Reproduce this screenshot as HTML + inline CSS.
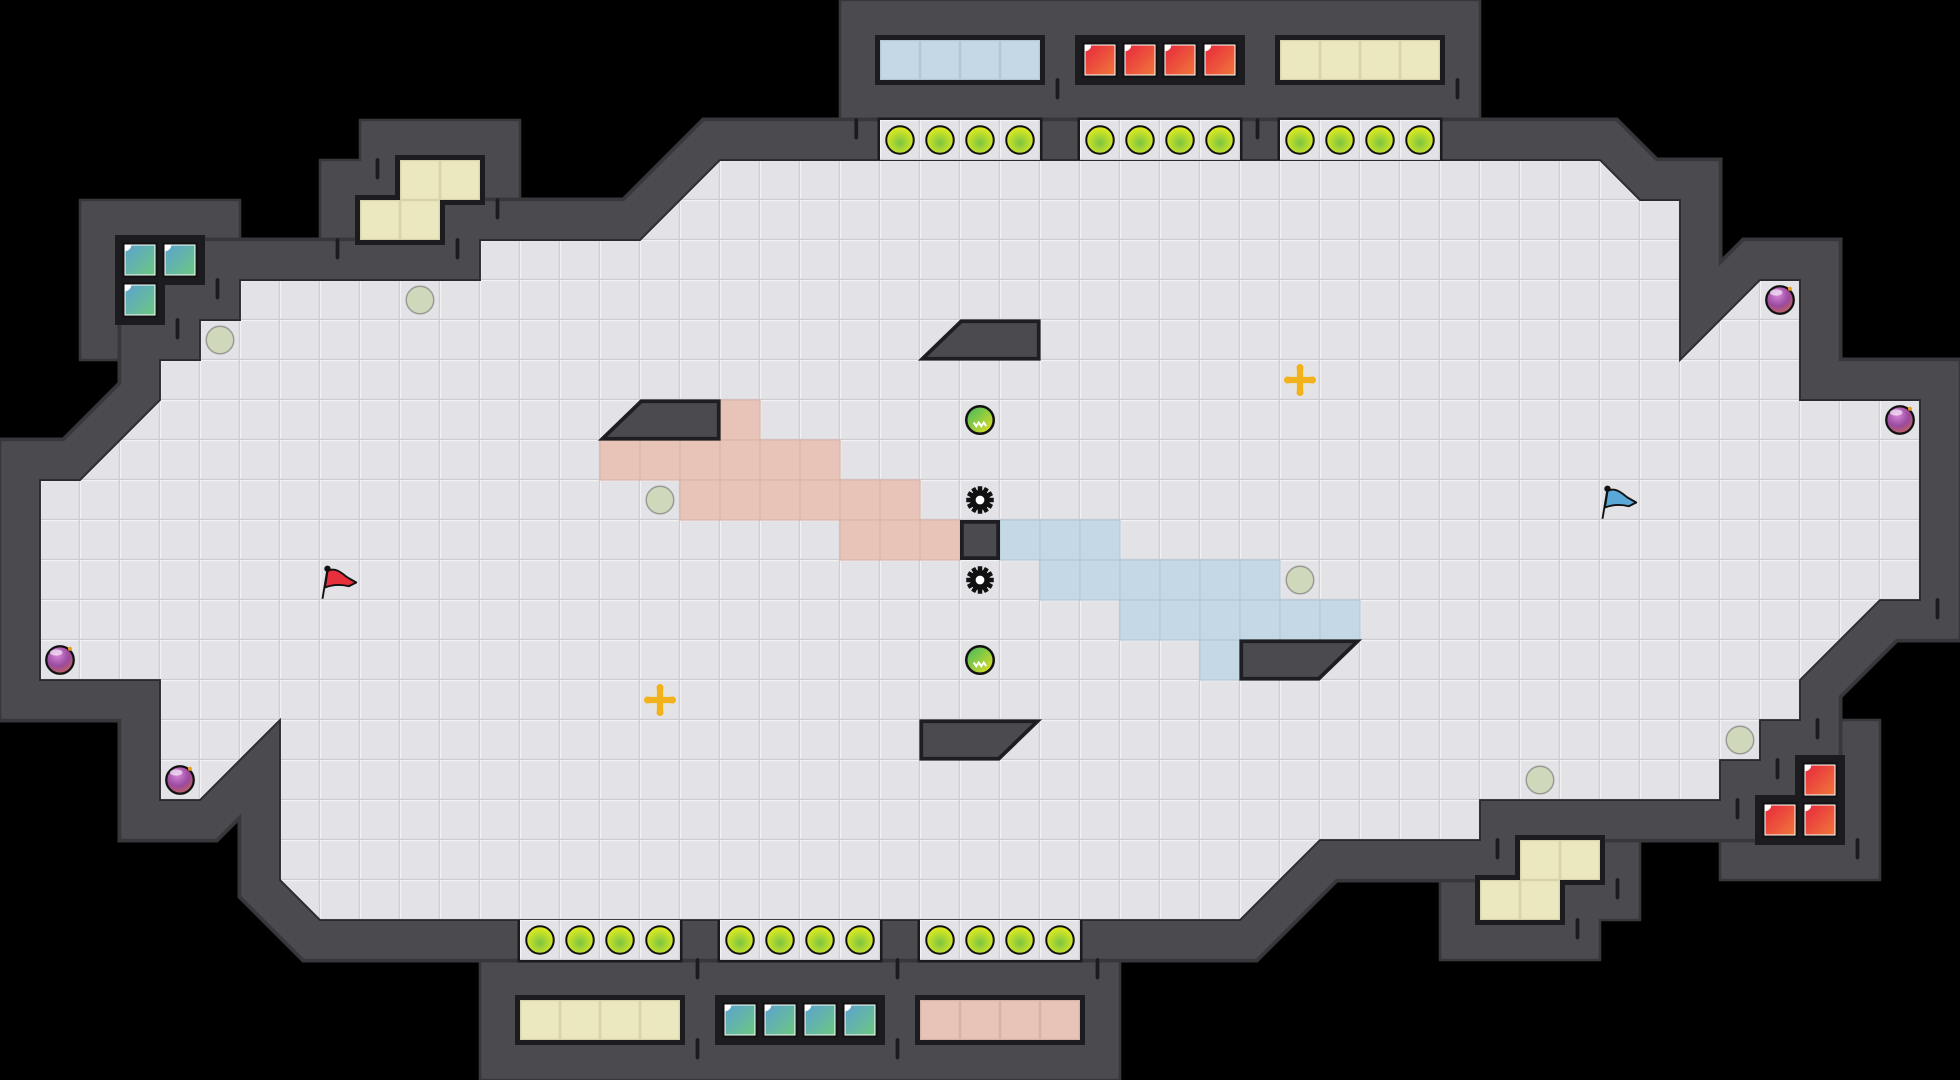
<!DOCTYPE html>
<html><head><meta charset="utf-8"><style>
html,body{margin:0;padding:0;background:#000;width:1960px;height:1080px;overflow:hidden}
svg{display:block}
</style></head><body>
<svg width="1960" height="1080" viewBox="0 0 1568 864" xmlns="http://www.w3.org/2000/svg">
<defs>
<pattern id="grid" width="32" height="32" patternUnits="userSpaceOnUse">
<rect width="32" height="32" fill="#e3e3e7"/>
<rect x="0" y="0" width="32" height="1" fill="#f2f2f4"/>
<rect x="0" y="0" width="1" height="32" fill="#f2f2f4"/>
<rect x="0" y="31" width="32" height="1" fill="#cdcdd2"/>
<rect x="31" y="0" width="1" height="32" fill="#cdcdd2"/>
</pattern>
<radialGradient id="yg" cx="0.5" cy="0.6" r="0.6"><stop offset="0" stop-color="#7cc443"/><stop offset="1" stop-color="#e8ee1c"/></radialGradient>
<linearGradient id="red" x1="0" y1="0" x2="1" y2="1"><stop offset="0" stop-color="#e8283c"/><stop offset="1" stop-color="#f0783c"/></linearGradient>
<linearGradient id="bg" x1="0" y1="0" x2="1" y2="1"><stop offset="0" stop-color="#5ba2d0"/><stop offset="1" stop-color="#6cc880"/></linearGradient>
<radialGradient id="pg" cx="0.4" cy="0.3" r="0.7"><stop offset="0" stop-color="#d98ad8"/><stop offset="0.6" stop-color="#9a4aa0"/><stop offset="1" stop-color="#c06060"/></radialGradient>
<linearGradient id="gb" x1="0" y1="0" x2="1" y2="1"><stop offset="0" stop-color="#3cb860"/><stop offset="1" stop-color="#e8e020"/></linearGradient>
<g id="yc"><circle r="11" fill="url(#yg)" stroke="#111" stroke-width="1.6"/></g>
<g id="rc"><rect x="2" y="2" width="28" height="28" fill="#111"/><rect x="4" y="4" width="24" height="24" fill="url(#red)" stroke="#fff" stroke-width="0.8"/><path d="M4 4h5a5 5 0 0 1-5 5z" fill="#fff"/></g>
<g id="bc"><rect x="2" y="2" width="28" height="28" fill="#111"/><rect x="4" y="4" width="24" height="24" fill="url(#bg)" stroke="#fff" stroke-width="0.8"/><path d="M4 4h5a5 5 0 0 1-5 5z" fill="#fff"/></g>
<g id="gc"><circle r="11" fill="#d0d8bc" stroke="#9a9a94" stroke-width="1.2"/></g>
<g id="bomb"><circle r="11" fill="url(#pg)" stroke="#111" stroke-width="1.8"/><circle cx="8" cy="-9" r="1.6" fill="#f0a020"/><ellipse cx="-3" cy="-6" rx="5" ry="2.5" fill="#fff" opacity="0.6"/></g>
<g id="cross" fill="#f2b21c"><circle r="10" fill="#e8e4d8" opacity="0.7"/><rect x="-11" y="-2.5" width="22" height="5"/><rect x="-2.5" y="-11" width="5" height="22"/><circle cx="-10" cy="0" r="2.8"/><circle cx="10" cy="0" r="2.8"/><circle cx="0" cy="-10" r="2.8"/><circle cx="0" cy="10" r="2.8"/></g>
<g id="gball"><circle r="11" fill="url(#gb)" stroke="#111" stroke-width="2"/><path d="M-5 2l2 3 2-3 2 3 2-3 2 3" stroke="#fff" stroke-width="1.6" fill="none"/></g>
<g id="gear"><circle r="8" fill="#111"/><g fill="#111"><rect x="-1.8" y="-11" width="3.6" height="22"/><rect x="-1.8" y="-11" width="3.6" height="22" transform="rotate(30)"/><rect x="-1.8" y="-11" width="3.6" height="22" transform="rotate(60)"/><rect x="-1.8" y="-11" width="3.6" height="22" transform="rotate(90)"/><rect x="-1.8" y="-11" width="3.6" height="22" transform="rotate(120)"/><rect x="-1.8" y="-11" width="3.6" height="22" transform="rotate(150)"/></g><circle r="3.5" fill="#fff"/></g>
<clipPath id="floorclip"><path id="fp" d="M576 128H1280L1312 160H1344V288L1408 224H1440V320H1536V480H1504L1440 544V576H1408V608H1376V640H1184V672H1056L992 736H256L224 704V576L160 640H128V544H32V384H64L128 320V288H160V256H192V224H384V192H512Z"/></clipPath>
</defs>

<!-- storage rooms (wall bodies) -->
<g fill="#4a4a4f" stroke="#38383c" stroke-width="2">
<path d="M64 160H192V288H64Z"/>
<path d="M288 96H416V192H384V224H256V128H288Z"/>
<path d="M672 0H1184V128H672Z"/>
<path d="M1376 576H1504V704H1376Z"/>
<path d="M1152 640H1312V736H1280V768H1152Z"/>
<path d="M384 736H896V864H384Z"/>
</g>
<!-- main walls -->
<path d="M576 128H1280L1312 160H1344V288L1408 224H1440V320H1536V480H1504L1440 544V576H1408V608H1376V640H1184V672H1056L992 736H256L224 704V576L160 640H128V544H32V384H64L128 320V288H160V256H192V224H384V192H512Z" fill="#4a4a4f" stroke="#38383c" stroke-width="68" stroke-linejoin="miter"/>
<path d="M576 128H1280L1312 160H1344V288L1408 224H1440V320H1536V480H1504L1440 544V576H1408V608H1376V640H1184V672H1056L992 736H256L224 704V576L160 640H128V544H32V384H64L128 320V288H160V256H192V224H384V192H512Z" fill="#4a4a4f" stroke="#4a4a4f" stroke-width="62" stroke-linejoin="miter"/>
<!-- floor -->
<rect x="0" y="0" width="1568" height="864" fill="url(#grid)" clip-path="url(#floorclip)"/>
<path d="M576 128H1280L1312 160H1344V288L1408 224H1440V320H1536V480H1504L1440 544V576H1408V608H1376V640H1184V672H1056L992 736H256L224 704V576L160 640H128V544H32V384H64L128 320V288H160V256H192V224H384V192H512Z" fill="none" stroke="#2a2a2e" stroke-width="1.5"/>

<!-- slots/alcoves -->
<g fill="#1c1c20">
<rect x="702" y="94" width="132" height="34"/><rect x="862" y="94" width="132" height="34"/><rect x="1022" y="94" width="132" height="34"/>
<rect x="414" y="736" width="132" height="34"/><rect x="574" y="736" width="132" height="34"/><rect x="734" y="736" width="132" height="34"/>
<rect x="700" y="28" width="136" height="40"/><rect x="860" y="28" width="136" height="40"/><rect x="1020" y="28" width="136" height="40"/>
<rect x="412" y="796" width="136" height="40"/><rect x="572" y="796" width="136" height="40"/><rect x="732" y="796" width="136" height="40"/>
<rect x="92" y="188" width="72" height="40"/><rect x="92" y="220" width="40" height="40"/>
<rect x="316" y="124" width="72" height="40"/><rect x="284" y="156" width="72" height="40"/>
<rect x="1436" y="604" width="40" height="40"/><rect x="1404" y="636" width="72" height="40"/>
<rect x="1212" y="668" width="72" height="40"/><rect x="1180" y="700" width="72" height="40"/>
</g>
<g fill="url(#grid)">
<rect x="704" y="96" width="128" height="32"/><rect x="864" y="96" width="128" height="32"/><rect x="1024" y="96" width="128" height="32"/>
<rect x="416" y="736" width="128" height="32"/><rect x="576" y="736" width="128" height="32"/><rect x="736" y="736" width="128" height="32"/>
</g>
<g fill="#c5d8e6" stroke="#b4c6d4" stroke-width="1"><rect x="704.5" y="32.5" width="31" height="31"/><rect x="736.5" y="32.5" width="31" height="31"/><rect x="768.5" y="32.5" width="31" height="31"/><rect x="800.5" y="32.5" width="31" height="31"/></g>
<g fill="#ebe8c0" stroke="#d8d4a8" stroke-width="1">
<rect x="1024.5" y="32.5" width="31" height="31"/><rect x="1056.5" y="32.5" width="31" height="31"/><rect x="1088.5" y="32.5" width="31" height="31"/><rect x="1120.5" y="32.5" width="31" height="31"/>
<rect x="416.5" y="800.5" width="31" height="31"/><rect x="448.5" y="800.5" width="31" height="31"/><rect x="480.5" y="800.5" width="31" height="31"/><rect x="512.5" y="800.5" width="31" height="31"/>
<rect x="320.5" y="128.5" width="31" height="31"/><rect x="352.5" y="128.5" width="31" height="31"/><rect x="288.5" y="160.5" width="31" height="31"/><rect x="320.5" y="160.5" width="31" height="31"/>
<rect x="1216.5" y="672.5" width="31" height="31"/><rect x="1248.5" y="672.5" width="31" height="31"/><rect x="1184.5" y="704.5" width="31" height="31"/><rect x="1216.5" y="704.5" width="31" height="31"/>
</g>
<g fill="#e8c4b8" stroke="#d6b2a6" stroke-width="1"><rect x="736.5" y="800.5" width="31" height="31"/><rect x="768.5" y="800.5" width="31" height="31"/><rect x="800.5" y="800.5" width="31" height="31"/><rect x="832.5" y="800.5" width="31" height="31"/></g>
<use href="#rc" x="864" y="32"/><use href="#rc" x="896" y="32"/><use href="#rc" x="928" y="32"/><use href="#rc" x="960" y="32"/>
<use href="#rc" x="1440" y="608"/><use href="#rc" x="1408" y="640"/><use href="#rc" x="1440" y="640"/>
<use href="#bc" x="576" y="800"/><use href="#bc" x="608" y="800"/><use href="#bc" x="640" y="800"/><use href="#bc" x="672" y="800"/>
<use href="#bc" x="96" y="192"/><use href="#bc" x="128" y="192"/><use href="#bc" x="96" y="224"/>

<!-- wall ticks -->
<g stroke="#1c1c20" stroke-width="3" stroke-linecap="round">
<line x1="685" y1="96" x2="685" y2="110"/><line x1="846" y1="64" x2="846" y2="78"/><line x1="1006" y1="96" x2="1006" y2="110"/><line x1="1166" y1="64" x2="1166" y2="78"/>
<line x1="302" y1="128" x2="302" y2="142"/><line x1="398" y1="160" x2="398" y2="174"/><line x1="270" y1="192" x2="270" y2="206"/><line x1="366" y1="192" x2="366" y2="206"/>
<line x1="174" y1="224" x2="174" y2="238"/><line x1="142" y1="256" x2="142" y2="270"/>
<line x1="558" y1="768" x2="558" y2="782"/><line x1="718" y1="832" x2="718" y2="846"/><line x1="878" y1="768" x2="878" y2="782"/><line x1="558" y1="832" x2="558" y2="846"/><line x1="718" y1="768" x2="718" y2="782"/>
<line x1="1422" y1="608" x2="1422" y2="622"/><line x1="1390" y1="640" x2="1390" y2="654"/><line x1="1486" y1="672" x2="1486" y2="686"/><line x1="1454" y1="576" x2="1454" y2="590"/>
<line x1="1198" y1="672" x2="1198" y2="686"/><line x1="1294" y1="704" x2="1294" y2="718"/><line x1="1262" y1="736" x2="1262" y2="750"/><line x1="1550" y1="480" x2="1550" y2="494"/>
</g>

<!-- colored floor -->
<g fill="#e8c4b8" stroke="#d9b6aa" stroke-width="1">
<rect x="576" y="320" width="32" height="32"/>
<rect x="480" y="352" width="32" height="32"/><rect x="512" y="352" width="32" height="32"/><rect x="544" y="352" width="32" height="32"/><rect x="576" y="352" width="32" height="32"/><rect x="608" y="352" width="32" height="32"/><rect x="640" y="352" width="32" height="32"/>
<rect x="544" y="384" width="32" height="32"/><rect x="576" y="384" width="32" height="32"/><rect x="608" y="384" width="32" height="32"/><rect x="640" y="384" width="32" height="32"/><rect x="672" y="384" width="32" height="32"/><rect x="704" y="384" width="32" height="32"/>
<rect x="672" y="416" width="32" height="32"/><rect x="704" y="416" width="32" height="32"/><rect x="736" y="416" width="32" height="32"/>
</g>
<g fill="#c5d8e6" stroke="#b5c9d8" stroke-width="1">
<rect x="800" y="416" width="32" height="32"/><rect x="832" y="416" width="32" height="32"/><rect x="864" y="416" width="32" height="32"/>
<rect x="832" y="448" width="32" height="32"/><rect x="864" y="448" width="32" height="32"/><rect x="896" y="448" width="32" height="32"/><rect x="928" y="448" width="32" height="32"/><rect x="960" y="448" width="32" height="32"/><rect x="992" y="448" width="32" height="32"/>
<rect x="896" y="480" width="32" height="32"/><rect x="928" y="480" width="32" height="32"/><rect x="960" y="480" width="32" height="32"/><rect x="992" y="480" width="32" height="32"/><rect x="1024" y="480" width="32" height="32"/><rect x="1056" y="480" width="32" height="32"/>
<rect x="960" y="512" width="32" height="32"/>
</g>

<!-- obstacles -->
<g fill="#4a4a4f" stroke="#1e1e22" stroke-width="3" stroke-linejoin="miter">
<path d="M738 287L769 257H831V287Z"/>
<path d="M482 351L513 321H575V351Z"/>
<path d="M993 513H1086L1055 543H993Z"/>
<path d="M737 577H830L799 607H737Z"/>
<rect x="769.5" y="417.5" width="29" height="29"/>
</g>

<!-- yellow circles -->
<g>
<use href="#yc" x="720" y="112"/><use href="#yc" x="752" y="112"/><use href="#yc" x="784" y="112"/><use href="#yc" x="816" y="112"/>
<use href="#yc" x="880" y="112"/><use href="#yc" x="912" y="112"/><use href="#yc" x="944" y="112"/><use href="#yc" x="976" y="112"/>
<use href="#yc" x="1040" y="112"/><use href="#yc" x="1072" y="112"/><use href="#yc" x="1104" y="112"/><use href="#yc" x="1136" y="112"/>
<use href="#yc" x="432" y="752"/><use href="#yc" x="464" y="752"/><use href="#yc" x="496" y="752"/><use href="#yc" x="528" y="752"/>
<use href="#yc" x="592" y="752"/><use href="#yc" x="624" y="752"/><use href="#yc" x="656" y="752"/><use href="#yc" x="688" y="752"/>
<use href="#yc" x="752" y="752"/><use href="#yc" x="784" y="752"/><use href="#yc" x="816" y="752"/><use href="#yc" x="848" y="752"/>
</g>
<use href="#gc" x="336" y="240"/><use href="#gc" x="176" y="272"/><use href="#gc" x="528" y="400"/><use href="#gc" x="1040" y="464"/><use href="#gc" x="1392" y="592"/><use href="#gc" x="1232" y="624"/>
<use href="#bomb" x="1424" y="240"/><use href="#bomb" x="1520" y="336"/><use href="#bomb" x="48" y="528"/><use href="#bomb" x="144" y="624"/>
<use href="#cross" x="1040" y="304"/><use href="#cross" x="528" y="560"/>
<use href="#gball" x="784" y="336"/><use href="#gball" x="784" y="528"/>
<use href="#gear" x="784" y="400"/><use href="#gear" x="784" y="464"/>

<!-- flags -->
<g stroke="#111" stroke-width="1.5" stroke-linejoin="round">
<line x1="258" y1="479" x2="262" y2="455"/><circle cx="262" cy="455" r="1.8" fill="#111"/>
<path d="M262 457C268 453 274 459 278 462L285 466L279 469C275 468 268 467 260 470Z" fill="#e8303c"/>
<line x1="1282" y1="415" x2="1286" y2="391"/><circle cx="1286" cy="391" r="1.8" fill="#111"/>
<path d="M1286 393C1292 389 1298 395 1302 398L1309 402L1303 405C1299 404 1292 403 1284 406Z" fill="#5aa8d8"/>
</g>
</svg>
</body></html>
